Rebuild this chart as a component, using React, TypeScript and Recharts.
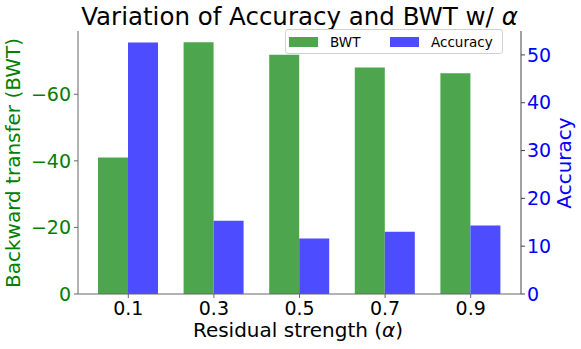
import { BarChart, Bar, XAxis, YAxis } from "recharts";

const ALPHAS = ["0.1", "0.3", "0.5", "0.7", "0.9"];
const BWT = [-41.0, -75.6, -71.9, -68.0, -66.3];
const ACCURACY = [52.6, 15.3, 11.6, 13.0, 14.3];
const BWT_TICKS = [-60, -40, -20, 0];
const ACC_TICKS = [0, 10, 20, 30, 40, 50];

const GREEN_BAR = "#4da64d";
const BLUE_BAR = "#4d4dff";
const FONT = "'DejaVu Sans', sans-serif";

const SERIES = [
  { key: "bwt", name: "BWT", color: GREEN_BAR },
  { key: "acc", name: "Accuracy", color: BLUE_BAR },
];

const data = ALPHAS.map((a, i) => ({ alpha: a, bwt: BWT[i], acc: ACCURACY[i] }));

const minus = (v: number) => (v < 0 ? "\u2212" + Math.abs(v) : String(v));

export default function App() {
  return (
    <div style={{ position: "absolute", left: 0, top: 0, width: 581, height: 349, fontFamily: FONT }}>
      <BarChart
        width={581}
        height={349}
        data={data}
        margin={{ top: 31, right: 0, bottom: 0, left: 0 }}
        barCategoryGap={12.5}
        barGap={0}
      >
        <XAxis
          dataKey="alpha"
          height={55}
          padding={{ left: 7.5, right: 7.5 }}
          stroke="#666"
          tickSize={4}
          tickMargin={4}
          tick={{ fill: "#000", fontSize: 19, fontFamily: FONT }}
        />
        <XAxis
          xAxisId="top"
          dataKey="alpha"
          orientation="top"
          height={0}
          tick={false}
          tickLine={false}
          stroke="#333"
        />
        <YAxis
          yAxisId="bwt"
          width={78}
          domain={[-79, 0]}
          reversed
          ticks={BWT_TICKS}
          tickFormatter={minus}
          stroke="#666"
          tickSize={4}
          tickMargin={3}
          tick={{ fill: "green", fontSize: 19, fontFamily: FONT }}
        />
        <YAxis
          yAxisId="acc"
          orientation="right"
          width={60}
          domain={[0, 55]}
          ticks={ACC_TICKS}
          stroke="#444"
          tickSize={4}
          tickMargin={2}
          tick={{ fill: "blue", fontSize: 19, fontFamily: FONT }}
        />
        <Bar dataKey="bwt" yAxisId="bwt" fill={GREEN_BAR} isAnimationActive={false} />
        <Bar dataKey="acc" yAxisId="acc" fill={BLUE_BAR} isAnimationActive={false} />
      </BarChart>

      <svg
        width={581}
        height={349}
        style={{ position: "absolute", left: 0, top: 0, pointerEvents: "none" }}
        fontFamily={FONT}
      >
        <text x={299.5} y={25} fontSize={24.5} textAnchor="middle" fill="#000">
          Variation of Accuracy and BWT w/ <tspan fontStyle="italic">α</tspan>
        </text>
        <text x={298} y={337} fontSize={20} textAnchor="middle" fill="#000">
          Residual strength (<tspan fontStyle="italic">α</tspan>)
        </text>
        <text x={19.6} y={163} fontSize={20} textAnchor="middle" fill="green" transform="rotate(-90 19.6 163)">
          Backward transfer (BWT)
        </text>
        <text x={571} y={163} fontSize={20} textAnchor="middle" fill="blue" transform="rotate(-90 571 163)">
          Accuracy
        </text>
      </svg>

      <div
        style={{
          position: "absolute",
          left: 285,
          top: 29,
          width: 218,
          height: 25,
          boxSizing: "border-box",
          border: "1px solid #d0d0d0",
          borderRadius: 3,
          background: "rgba(255,255,255,0.85)",
          fontSize: 13.5,
          color: "#000",
        }}
      >
        {SERIES.map((s, i) => (
          <div
            key={s.key}
            style={{
              position: "absolute",
              left: i === 0 ? 3 : 104,
              top: 0,
              height: 23,
              display: "flex",
              alignItems: "center",
            }}
          >
            <span style={{ display: "inline-block", width: 29, height: 10, background: s.color, marginRight: 12 }} />
            <span>{s.name}</span>
          </div>
        ))}
      </div>
    </div>
  );
}
